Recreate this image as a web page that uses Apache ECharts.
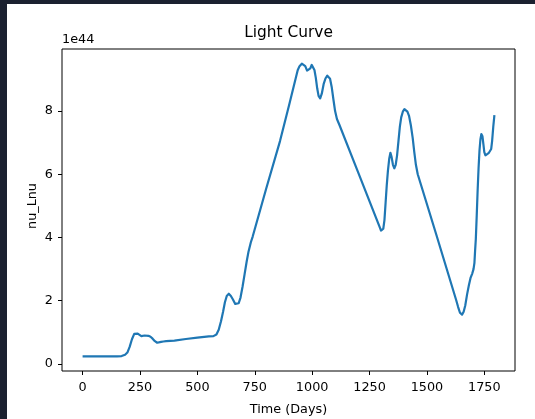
<!DOCTYPE html>
<html>
<head>
<meta charset="utf-8">
<script src="https://cdn.jsdelivr.net/npm/echarts@6/dist/echarts.min.js"></script>
<style>
  html, body { margin: 0; padding: 0; background: #1b2130; width: 535px; height: 419px; overflow: hidden; }
  #chart { position: absolute; left: 7px; top: 4px; width: 528px; height: 415px; background: #ffffff; }
</style>
</head>
<body>
<div id="chart"></div>
<script>
// Light curve: time in days vs nu_Lnu (in units of 1e44)
const SCALE_EXP = 44;

const days = [
  0, 50, 100, 150, 170, 185, 195, 205, 215, 225, 233, 240, 248, 256, 263, 270, 278, 287,
  296, 305, 315, 325, 333, 342, 352, 364, 400, 450, 500, 550, 570, 583, 593, 603, 612,
  620, 628, 637, 646, 655, 665, 673, 680, 688, 697, 706, 715, 723, 733, 741, 800, 860,
  900, 937, 945, 955, 962, 970, 978, 985, 992, 998, 1004, 1010, 1016, 1022, 1028, 1035,
  1042, 1050, 1058, 1066, 1072, 1078, 1085, 1093, 1100, 1108, 1119, 1200, 1293, 1300,
  1305, 1310, 1315, 1320, 1325, 1330, 1336, 1341, 1346, 1352, 1358, 1364, 1370, 1376,
  1382, 1388, 1395, 1402, 1408, 1415, 1422, 1430, 1438, 1445, 1452, 1460, 1540, 1627,
  1636, 1644, 1653, 1660, 1667, 1675, 1683, 1690, 1697, 1703, 1707, 1710, 1713, 1717,
  1721, 1725, 1729, 1733, 1737, 1742, 1746, 1750, 1755, 1762, 1770, 1776, 1780, 1784,
  1789, 1794
];

const nuLnu = [
  0.24, 0.24, 0.24, 0.24, 0.25, 0.29, 0.36, 0.54, 0.78, 0.95, 1.00, 0.96, 0.92, 0.88, 0.86, 0.90, 0.91, 0.89,
  0.86, 0.80, 0.72, 0.67, 0.66, 0.70, 0.71, 0.72, 0.74, 0.79, 0.83, 0.87, 0.88, 0.93, 1.08, 1.35, 1.65,
  1.95, 2.15, 2.22, 2.15, 2.04, 1.90, 1.85, 1.92, 2.10, 2.45, 2.85, 3.25, 3.56, 3.85, 4.03, 5.55, 7.05,
  8.20, 9.29, 9.42, 9.50, 9.50, 9.42, 9.28, 9.22, 9.35, 9.46, 9.42, 9.30, 9.05, 8.72, 8.48, 8.40,
  8.55, 8.85, 9.03, 9.12, 9.13, 9.02, 8.77, 8.35, 8.00, 7.75, 7.56, 6.07, 4.35, 4.22,
  4.19, 4.28, 4.55, 5.10, 5.65, 6.10, 6.50, 6.68, 6.55, 6.30, 6.19, 6.30, 6.60, 7.05,
  7.50, 7.80, 7.98, 8.06, 8.05, 7.98, 7.85, 7.55, 7.15, 6.70, 6.30, 6.00, 4.11, 2.03,
  1.80, 1.62, 1.56, 1.65, 1.85, 2.20, 2.50, 2.72, 2.85, 3.00, 3.20, 3.60, 3.95, 4.70,
  5.50, 6.20, 6.75, 7.10, 7.27, 7.20, 6.95, 6.70, 6.60, 6.64, 6.68, 6.72, 6.80, 7.05,
  7.50, 7.87
];

const xTicks = [0, 250, 500, 750, 1000, 1250, 1500, 1750];
const yTicks = [0, 2, 4, 6, 8];

const seriesData = days.map((d, i) => [d, nuLnu[i]]);

// 5% padding around the data range on each axis
const xSpan = Math.max(...days) - Math.min(...days);
const ySpan = Math.max(...nuLnu) - Math.min(...nuLnu);
const xMin = Math.min(...days) - 0.05 * xSpan;
const xMax = Math.max(...days) + 0.05 * xSpan;
const yMin = Math.min(...nuLnu) - 0.05 * ySpan;
const yMax = Math.max(...nuLnu) + 0.05 * ySpan;

const FONT = 'DejaVu Sans';
const TICK_SIZE = 12.8;

const chart = echarts.init(document.getElementById('chart'), null, { renderer: 'canvas' });

const gridLeft = 55, gridTop = 45, gridRight = 20, gridBottom = 48;
const W = 528, H = 415;
const plotCx = gridLeft + (W - gridLeft - gridRight) / 2;
const plotCy = gridTop + (H - gridTop - gridBottom) / 2;

const plainNumber = v => String(Math.round(v));

chart.setOption({
  animation: false,
  backgroundColor: '#ffffff',
  grid: {
    left: gridLeft, top: gridTop, right: gridRight, bottom: gridBottom,
    show: true, borderColor: '#000000', borderWidth: 1, backgroundColor: 'transparent'
  },
  xAxis: {
    type: 'value',
    min: xMin, max: xMax,
    axisLine: { show: false, onZero: false },
    splitLine: { show: false },
    axisTick: { show: true, length: 4, customValues: xTicks, lineStyle: { color: '#000', width: 1 } },
    axisLabel: {
      customValues: xTicks, margin: 10, formatter: plainNumber,
      color: '#000', fontFamily: FONT, fontSize: TICK_SIZE
    }
  },
  yAxis: {
    type: 'value',
    min: yMin, max: yMax,
    axisLine: { show: false, onZero: false },
    splitLine: { show: false },
    axisTick: { show: true, length: 4, customValues: yTicks, lineStyle: { color: '#000', width: 1 } },
    axisLabel: {
      customValues: yTicks, margin: 9, formatter: plainNumber,
      color: '#000', fontFamily: FONT, fontSize: TICK_SIZE
    }
  },
  graphic: [
    {
      type: 'text', x: plotCx, y: 29,
      style: { text: 'Light Curve', fill: '#000', font: '15.4px "DejaVu Sans"', align: 'center', verticalAlign: 'middle' }
    },
    {
      type: 'text', x: gridLeft, y: 36,
      style: { text: '1e' + SCALE_EXP, fill: '#000', font: TICK_SIZE + 'px "DejaVu Sans"', align: 'left', verticalAlign: 'middle' }
    },
    {
      type: 'text', x: plotCx, y: 405.5,
      style: { text: 'Time (Days)', fill: '#000', font: TICK_SIZE + 'px "DejaVu Sans"', align: 'center', verticalAlign: 'middle' }
    },
    {
      type: 'text', x: 26, y: plotCy - 4, rotation: Math.PI / 2,
      style: { text: 'nu_Lnu', fill: '#000', font: TICK_SIZE + 'px "DejaVu Sans"', align: 'center', verticalAlign: 'middle' }
    }
  ],
  series: [{
    type: 'line',
    data: seriesData,
    showSymbol: false,
    smooth: false,
    lineStyle: { color: '#1f77b4', width: 2.2, join: 'round' },
    itemStyle: { color: '#1f77b4' }
  }]
});
</script>
</body>
</html>
